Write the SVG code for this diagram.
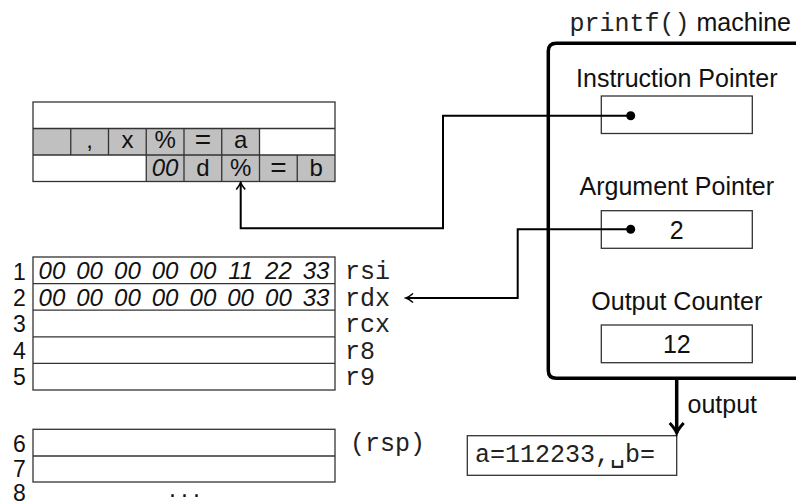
<svg xmlns="http://www.w3.org/2000/svg" width="796" height="504" viewBox="0 0 796 504">
<defs>
<style>
.sans{font-family:"Liberation Sans","DejaVu Sans",sans-serif;font-size:25px;fill:#111}
.num{font-family:"Liberation Sans","DejaVu Sans",sans-serif;font-size:23px;fill:#111;text-anchor:middle}
.cell{font-family:"Liberation Sans","DejaVu Sans",sans-serif;font-size:24px;fill:#111;text-anchor:middle}
.it{font-style:italic}
.eq{font-size:28px}
.mono{font-family:"Liberation Mono","DejaVu Sans Mono",monospace;font-size:25px;fill:#222}
.tbl{fill:none;stroke:#333;stroke-width:1.3}
.gray{fill:#c0c0c0;stroke:none}
.box{fill:#fff;stroke:#333;stroke-width:1.3}
.conn{fill:none;stroke:#000;stroke-width:2}
.mid{text-anchor:middle}
</style>
<marker id="ah" markerWidth="12" markerHeight="12" viewBox="-10 -6 12 12" refX="0" refY="0" orient="auto" markerUnits="userSpaceOnUse">
<path d="M-7,-4.5 Q-3,-1 0,0 Q-3,1 -7,4.5" fill="none" stroke="#000" stroke-width="1.6"/>
</marker>
<marker id="ahb" markerWidth="20" markerHeight="20" viewBox="-14 -10 16 20" refX="0" refY="0" orient="auto" markerUnits="userSpaceOnUse">
<path d="M-10,-7 Q-4,-1.5 0,0 Q-4,1.5 -10,7" fill="none" stroke="#000" stroke-width="3"/>
</marker>
</defs>

<g id="format-string">
<rect class="gray" x="33" y="128.5" width="226.5" height="26.5"/>
<rect class="gray" x="146.25" y="155" width="188.75" height="26.5"/>
<rect class="tbl" x="33" y="102" width="302" height="79.5"/>
<line class="tbl" x1="33" y1="128.5" x2="335" y2="128.5"/>
<line class="tbl" x1="33" y1="155" x2="335" y2="155"/>
<path class="tbl" d="M70.75,128.5V155M108.5,128.5V155M146.25,128.5V181.5M184,128.5V181.5M221.75,128.5V181.5M259.5,128.5V181.5M297.25,155V181.5"/>
<text class="cell" x="89.6" y="148">,</text>
<text class="cell" x="127.4" y="148">x</text>
<text class="cell" x="165.1" y="148">%</text>
<text class="cell eq" x="202.9" y="149">=</text>
<text class="cell" x="240.6" y="148">a</text>
<text class="cell it" x="165.1" y="176">00</text>
<text class="cell" x="202.9" y="176">d</text>
<text class="cell" x="240.6" y="176">%</text>
<text class="cell eq" x="278.4" y="177">=</text>
<text class="cell" x="316.1" y="176">b</text>
</g>

<g id="registers">
<rect class="tbl" x="33" y="257" width="302" height="133"/>
<path class="tbl" d="M33,283.6H335M33,310.2H335M33,336.8H335M33,363.4H335"/>
<g class="cell it">
<text x="51.9" y="279">00</text><text x="89.6" y="279">00</text><text x="127.4" y="279">00</text><text x="165.1" y="279">00</text><text x="202.9" y="279">00</text><text x="240.6" y="279">11</text><text x="278.4" y="279">22</text><text x="316.1" y="279">33</text>
<text x="51.9" y="305.5">00</text><text x="89.6" y="305.5">00</text><text x="127.4" y="305.5">00</text><text x="165.1" y="305.5">00</text><text x="202.9" y="305.5">00</text><text x="240.6" y="305.5">00</text><text x="278.4" y="305.5">00</text><text x="316.1" y="305.5">33</text>
</g>
<g class="num">
<text x="19.5" y="279.5">1</text>
<text x="19.5" y="305.5">2</text>
<text x="19.5" y="332">3</text>
<text x="19.5" y="358.5">4</text>
<text x="19.5" y="385">5</text>
</g>
<g class="mono">
<text x="345" y="279">rsi</text>
<text x="345" y="305.5">rdx</text>
<text x="345" y="332">rcx</text>
<text x="345" y="358.5">r8</text>
<text x="345" y="385">r9</text>
</g>
</g>

<g id="stack">
<rect class="tbl" x="33" y="429.3" width="302" height="52.7"/>
<line class="tbl" x1="33" y1="456" x2="335" y2="456"/>
<g class="num">
<text x="19.5" y="451.5">6</text>
<text x="19.5" y="476.5">7</text>
<text x="19.5" y="501">8</text>
</g>
<text class="sans" x="169" y="497" letter-spacing="5">...</text>
<text class="mono" x="350" y="451">(rsp)</text>
</g>

<g id="machine">
<path d="M810,43.3H556.3Q548.3,43.3 548.3,51.3V370.3Q548.3,378.3 556.3,378.3H810" fill="none" stroke="#000" stroke-width="3.5"/>
<text x="791" y="31" text-anchor="end"><tspan class="mono">printf()</tspan><tspan class="sans"> machine</tspan></text>
</g>

<g id="instruction-pointer">
<text class="sans mid" x="676.8" y="87">Instruction Pointer</text>
<rect class="box" x="601.3" y="96" width="151" height="37.5"/>
</g>

<g id="argument-pointer">
<text class="sans mid" x="676.8" y="195">Argument Pointer</text>
<rect class="box" x="601.3" y="210.7" width="151" height="37.6"/>
<text class="sans mid" x="676.8" y="238.5">2</text>
</g>

<g id="output-counter">
<text class="sans mid" x="676.8" y="310">Output Counter</text>
<rect class="box" x="601.3" y="325" width="151" height="37.7"/>
<text class="sans mid" x="676.8" y="352.8">12</text>
</g>

<g id="output">
<rect class="box" x="467.3" y="435.7" width="209.4" height="39.6"/>
<text class="mono" x="475" y="462">a=112233,␣b=</text>
</g>

<g id="connectors">
<path class="conn" d="M630.7,115.7H443V228.3H240.7V182.5" marker-end="url(#ah)"/>
<circle cx="630.7" cy="115.7" r="4.5" fill="#000"/>
<path class="conn" d="M630.7,229.3H517.7V298H406" marker-end="url(#ah)"/>
<circle cx="630.7" cy="229.3" r="4.5" fill="#000"/>
<path d="M676.7,379V433" fill="none" stroke="#000" stroke-width="3.5" marker-end="url(#ahb)"/>
<text class="sans" x="687.5" y="412.5">output</text>
</g>
</svg>
